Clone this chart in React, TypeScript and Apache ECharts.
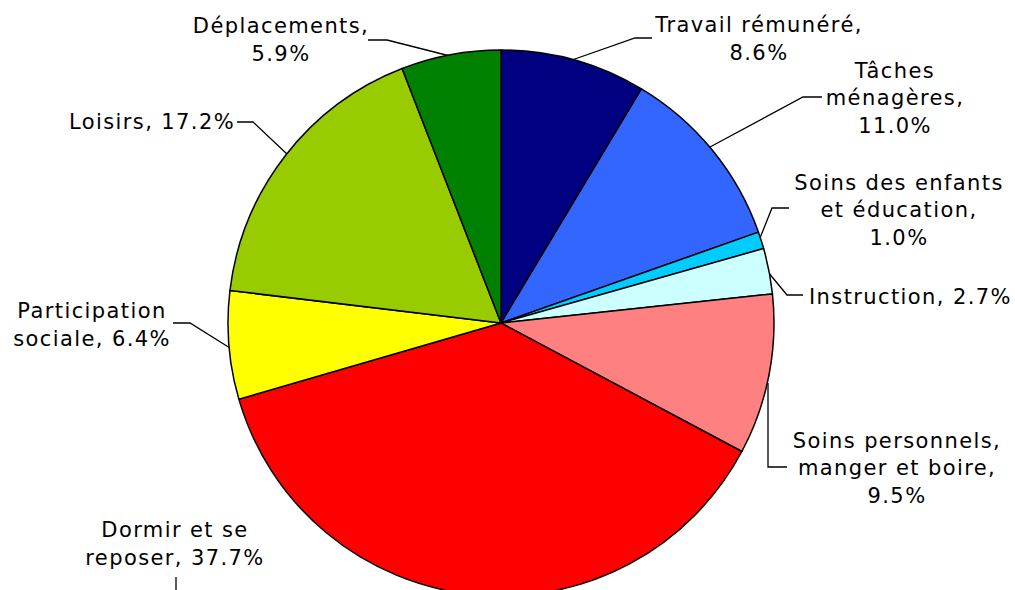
import React, { useEffect, useRef } from "react";
import * as echarts from "echarts";

const categories = [
  "Travail rémunéré",
  "Tâches ménagères",
  "Soins des enfants et éducation",
  "Instruction",
  "Soins personnels, manger et boire",
  "Dormir et se reposer",
  "Participation sociale",
  "Loisirs",
  "Déplacements",
];
const values = [8.6, 11.0, 1.0, 2.7, 9.5, 37.7, 6.4, 17.2, 5.9];
const labelHeads = [
  "Travail rémunéré,\n",
  "Tâches\nménagères,\n",
  "Soins des enfants\net éducation,\n",
  "Instruction, ",
  "Soins personnels,\nmanger et boire,\n",
  "Dormir et se\nreposer, ",
  "Participation\nsociale, ",
  "Loisirs, ",
  "Déplacements,\n",
];
const colors = ["#000080", "#3366FF", "#00CCFF", "#CCFFFF", "#FF8080", "#FF0000", "#FFFF00", "#99CC00", "#008000"];

// label placement (text anchor + leader line path)
const labelPlaces: { x: number; y: number; align: string; line: number[][] }[] = [
  { x: 759, y: 39, align: "center", line: [[572, 60], [635, 38], [652, 38]] },
  { x: 895, y: 98, align: "center", line: [[710, 147], [803, 97], [822, 97]] },
  { x: 899, y: 210, align: "center", line: [[760, 238], [772, 208], [789, 208]] },
  { x: 809, y: 297, align: "left", line: [[768, 272], [787, 295], [803, 295]] },
  { x: 897, y: 468, align: "center", line: [[768, 383], [768, 467], [787, 467]] },
  { x: 175, y: 544, align: "center", line: [[176, 610], [176, 590], [176, 577]] },
  { x: 92, y: 325, align: "center", line: [[230, 348], [190, 323], [173, 323]] },
  { x: 235, y: 122, align: "right", line: [[288, 155], [253, 122], [237, 122]] },
  { x: 281, y: 40, align: "center", line: [[450, 56], [387, 40], [368, 40]] },
];

export default function App() {
  const ref = useRef<HTMLDivElement>(null);
  useEffect(() => {
    if (!ref.current) return;
    const chart = echarts.init(ref.current, undefined, { renderer: "svg" });
    chart.setOption({
      animation: false,
      backgroundColor: "#FFFFFF",
      series: [
        {
          type: "pie",
          center: [501, 323],
          radius: 273,
          startAngle: 90,
          clockwise: true,
          avoidLabelOverlap: false,
          itemStyle: { borderColor: "#000000", borderWidth: 1.5 },
          label: {
            show: true,
            position: "outside",
            fontFamily: "DejaVu Sans, Verdana, sans-serif",
            fontSize: 21,
            lineHeight: 27.5,
            color: "#000000",
            formatter: (p: any) => labelHeads[p.dataIndex] + values[p.dataIndex].toFixed(1) + "%",
          },
          labelLine: { show: true, lineStyle: { color: "#000000", width: 1.3 } },
          labelLayout: (p: any) => {
            const pl = labelPlaces[p.dataIndex];
            return {
              x: pl.x,
              y: pl.y,
              align: pl.align,
              verticalAlign: "middle",
              labelLinePoints: pl.line,
            };
          },
          emphasis: { disabled: true },
          data: categories.map((c, i) => ({ name: c, value: values[i], itemStyle: { color: colors[i] } })),
        },
      ],
    });
    return () => chart.dispose();
  }, []);
  return (
    <>
      <style>{`.pie-root svg text { letter-spacing: 1.4px; }`}</style>
      <div className="pie-root" ref={ref} style={{ position: "fixed", left: 0, top: 0, width: 1015, height: 590 }} />
    </>
  );
}
